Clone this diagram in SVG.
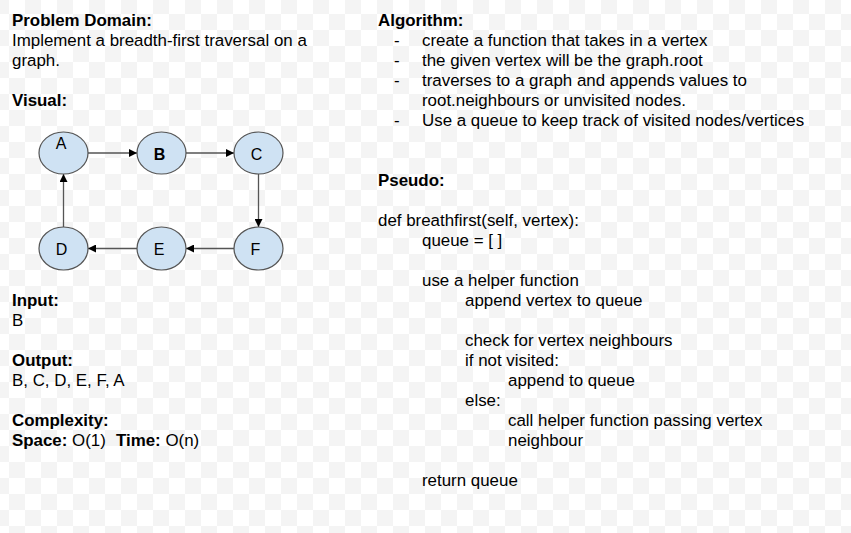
<svg xmlns="http://www.w3.org/2000/svg" width="851" height="533" viewBox="0 0 851 533">
<defs>
<pattern id="checker" x="-7" y="-2" width="32" height="32" patternUnits="userSpaceOnUse">
<rect width="32" height="32" fill="#ffffff"/>
<rect width="16" height="16" fill="#f4f4f4"/>
<rect x="16" y="16" width="16" height="16" fill="#f4f4f4"/>
</pattern>
<marker id="arrow" viewBox="0 0 10 10" refX="10" refY="5" markerWidth="8" markerHeight="8" markerUnits="userSpaceOnUse" orient="auto">
<path d="M0,0 L10,5 L0,10 z" fill="#000"/>
</marker>
</defs>
<style>
text { font-family: "Liberation Sans", Arial, sans-serif; font-size: 16.9px; fill: #000; }
.b { font-weight: bold; }
.node ellipse { fill: #cfe2f3; stroke: #555555; stroke-width: 1.2; }
.node text { font-size: 16px; text-anchor: middle; }
#connectors line { stroke: #555555; stroke-width: 1.3; marker-end: url(#arrow); }
</style>
<rect width="851" height="533" fill="url(#checker)"/>

<g id="left-text">
<text x="12" y="26" class="b">Problem Domain:</text>
<text x="12" y="46">Implement a breadth-first traversal on a</text>
<text x="12" y="66">graph.</text>
<text x="12" y="106" class="b">Visual:</text>
<text x="12" y="306" class="b">Input:</text>
<text x="12" y="326">B</text>
<text x="12" y="366" class="b">Output:</text>
<text x="12" y="386">B, C, D, E, F, A</text>
<text x="12" y="426" class="b">Complexity:</text>
<text x="12" y="446"><tspan class="b">Space:</tspan> O(1) <tspan x="116" class="b">Time:</tspan> O(n)</text>
</g>

<g id="connectors">
<line x1="88" y1="153" x2="137" y2="153"/>
<line x1="186" y1="153" x2="234" y2="153"/>
<line x1="258.5" y1="174" x2="258.5" y2="227"/>
<line x1="234" y1="248.5" x2="186" y2="248.5"/>
<line x1="137" y1="248.5" x2="88" y2="248.5"/>
<line x1="63.5" y1="227" x2="63.5" y2="174"/>
</g>

<g id="node-A" class="node"><ellipse cx="63.5" cy="153" rx="24.5" ry="21"/><text x="61" y="149">A</text></g>
<g id="node-B" class="node"><ellipse cx="161.5" cy="153" rx="24.5" ry="21"/><text x="159.5" y="159.5" class="b">B</text></g>
<g id="node-C" class="node"><ellipse cx="258.5" cy="153" rx="24.5" ry="21"/><text x="256.5" y="159.5">C</text></g>
<g id="node-D" class="node"><ellipse cx="63.5" cy="248.5" rx="24.5" ry="21.5"/><text x="61.5" y="255">D</text></g>
<g id="node-E" class="node"><ellipse cx="161.5" cy="248.5" rx="24.5" ry="21.5"/><text x="159" y="255">E</text></g>
<g id="node-F" class="node"><ellipse cx="258.5" cy="248.5" rx="24.5" ry="21.5"/><text x="255.5" y="255">F</text></g>

<g id="right-text">
<text x="378" y="26" class="b">Algorithm:</text>
<text x="394" y="46">-</text><text x="422" y="46">create a function that takes in a vertex</text>
<text x="394" y="66">-</text><text x="422" y="66">the given vertex will be the graph.root</text>
<text x="394" y="86">-</text><text x="422" y="86">traverses to a graph and appends values to</text>
<text x="422" y="106">root.neighbours or unvisited nodes.</text>
<text x="394" y="126">-</text><text x="422" y="126">Use a queue to keep track of visited nodes/vertices</text>
<text x="378" y="186" class="b">Pseudo:</text>
<text x="378" y="226">def breathfirst(self, vertex):</text>
<text x="422" y="246">queue = [ ]</text>
<text x="422" y="286">use a helper function</text>
<text x="465" y="306">append vertex to queue</text>
<text x="465" y="346">check for vertex neighbours</text>
<text x="465" y="366">if not visited:</text>
<text x="508" y="386">append to queue</text>
<text x="465" y="406">else:</text>
<text x="508" y="426">call helper function passing vertex</text>
<text x="508" y="446">neighbour</text>
<text x="422" y="486">return queue</text>
</g>
</svg>
